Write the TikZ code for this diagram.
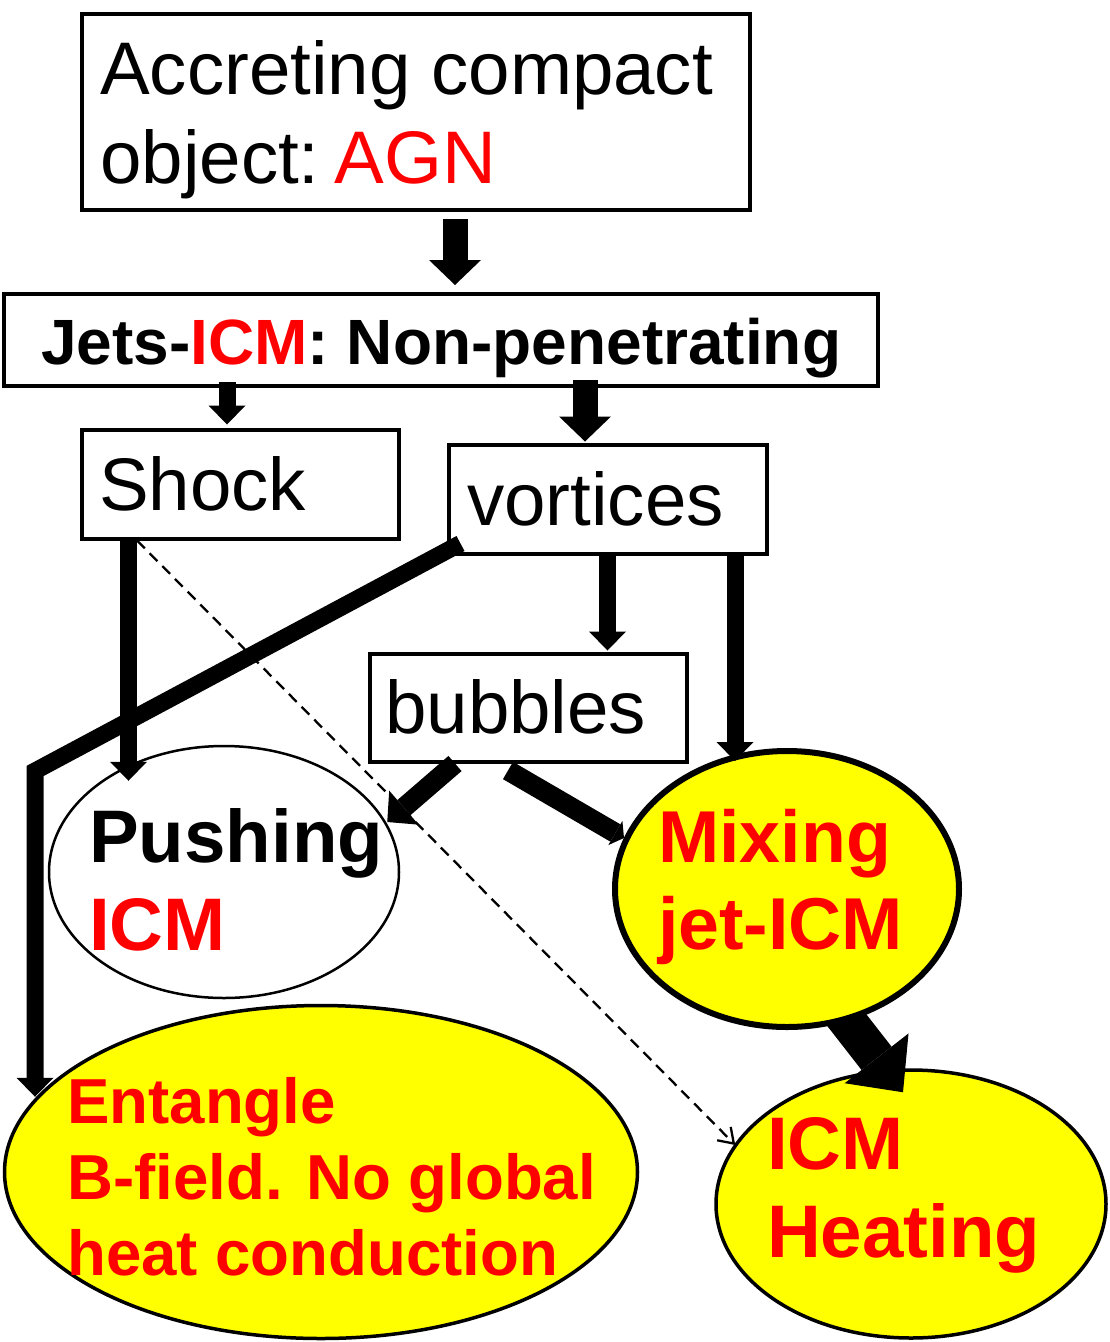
\documentclass[tikz,border=0pt]{standalone}
\usepackage{fontspec}
\setmainfont{Liberation Sans}
\usetikzlibrary{arrows.meta,shapes.geometric}
\definecolor{hired}{RGB}{255,0,0}
\definecolor{hiyel}{RGB}{255,255,0}
\begin{document}
\begin{tikzpicture}[x=1pt,y=-1pt,
  box/.style={draw, rectangle, line width=4pt, inner sep=0pt},
  oval/.style={draw, ellipse, inner sep=0pt},
  lbl/.style={inner sep=0pt, anchor=base west},
  reg/.style={lbl, font=\fontsize{74.5}{88}\selectfont},
  bold/.style={lbl, font=\fontsize{74.5}{88}\selectfont\bfseries},
  boldr/.style={lbl, text=hired, font=\fontsize{73.5}{88}\selectfont\bfseries},
  jetsfont/.style={lbl, font=\fontsize{64}{76}\selectfont\bfseries},
  entfont/.style={lbl, text=hired, font=\fontsize{63.6}{76}\selectfont\bfseries},
  arrwide/.style={line width=25pt, -{Triangle[width=52pt,length=25pt,line width=0pt]}},
  arrmid/.style={line width=17pt, -{Triangle[width=37pt,length=19pt,line width=0pt]}},
  arrdiag/.style={line width=20pt, -{Triangle[width=45pt,length=22pt,line width=0pt]}},
  arrflat/.style={line width=20pt, -{Triangle[width=28pt,length=10pt,line width=0pt]}},
  arrbig/.style={line width=38pt, -{Triangle[width=81pt,length=43pt,line width=0pt]}},
  arrdash/.style={line width=2.3pt, dash pattern=on 11pt off 7pt, -{Straight Barb[length=14pt,width=19pt]}}
]
\useasboundingbox (0,0) rectangle (1110,1342);
\fill[white] (0,0) rectangle (1110,1342);

% boxes
\node[box, minimum width=668pt, minimum height=196pt] (agn) at (416,112) {};
\node[box, minimum width=874pt, minimum height=92pt] (jets) at (441,340) {};
\node[box, minimum width=317pt, minimum height=109pt] (shock) at (240,484) {};
\node[box, minimum width=318pt, minimum height=109pt] (vort) at (607.5,499) {};
\node[box, minimum width=317pt, minimum height=108pt] (bub) at (528,707.5) {};

% ellipses
\node[oval, line width=3.5pt, fill=hiyel, minimum width=633pt, minimum height=333pt] (ent) at (321,1172) {};
\node[oval, line width=3.5pt, fill=hiyel, minimum width=390pt, minimum height=268pt] (heat) at (911,1204) {};
\node[oval, line width=2.5pt, fill=white, minimum width=350pt, minimum height=252pt] (push) at (224,872) {};

% mixing -> heating (its start lies under the mixing ellipse)
\coordinate (mixc) at (787,889);
\draw[arrbig] ([xshift=48pt,yshift=-116pt]mixc) -- ([xshift=-8pt,yshift=-24pt]heat.north);
\node[oval, line width=6pt, fill=hiyel, minimum width=344pt, minimum height=276pt] (mix) at (mixc) {};

% connectors
\draw[arrwide, shorten <=7pt, shorten >=7pt] ([xshift=39pt]agn.south) -- ([xshift=14pt]jets.north);
\draw[arrmid, shorten <=-6pt, shorten >=3pt] ([xshift=-214pt]jets.south) -- ([xshift=-13pt]shock.north);
\draw[arrwide, shorten <=-8pt, shorten >=1pt] ([xshift=144pt]jets.south) -- ([xshift=-22.5pt]vort.north);
\draw[arrmid, shorten >=1pt] ([xshift=0pt]vort.south) -- ([xshift=79.5pt]bub.north);
\draw[arrmid] ([xshift=127.5pt]vort.south) -- ([xshift=-52pt,yshift=-13pt]mix.north);
\draw[arrmid] ([xshift=-111.5pt]shock.south) -- ([xshift=-95.5pt,yshift=-36pt]push.north);
\coordinate (bend) at (35,771);
\draw[line width=17pt, -{Triangle[width=37pt,length=19pt,line width=0pt]}] ([xshift=14pt,yshift=12pt]vort.south west) -- (bend) -- ([xshift=-286pt,yshift=-93pt]ent.north);
\draw[arrdiag] ([xshift=-73pt]bub.south) -- ([xshift=-13pt,yshift=50pt]push.east);
\draw[arrflat] ([xshift=-20pt,yshift=-7pt]bub.south) -- ([xshift=12pt,yshift=51pt]mix.west);
\draw[arrdash] ([xshift=-103pt]shock.south) -- ([xshift=21pt,yshift=59pt]heat.west);

% texts
\node[reg] (t1) at (100,94) {Accreting compact};
\node[reg] (t2) at (100,183) {object:\hspace{0.2em}\textcolor{hired}{AGN}};
\node[jetsfont] (t3) at (41,364) {Jets-\textcolor{hired}{ICM}: Non-penetrating};
\node[reg] (t4) at (99,510) {Shock};
\node[reg] (t5) at (467,525) {vortices};
\node[reg] (t6) at (385,733) {bubbles};
\node[bold] (t7) at (89,862) {Pushing};
\node[bold, text=hired] (t8) at (89,950) {ICM};
\node[boldr] (t9) at (658,862) {Mixing};
\node[boldr] (t10) at (658,949) {jet-ICM};
\node[entfont] (t11) at (67,1123) {Entangle};
\node[entfont] (t12) at (67,1199) {B-field. No global};
\node[entfont] (t13) at (67,1275) {heat conduction};
\node[bold, text=hired] (t14) at (767,1169) {ICM};
\node[bold, text=hired] (t15) at (767,1257) {Heating};
\end{tikzpicture}
\end{document}
